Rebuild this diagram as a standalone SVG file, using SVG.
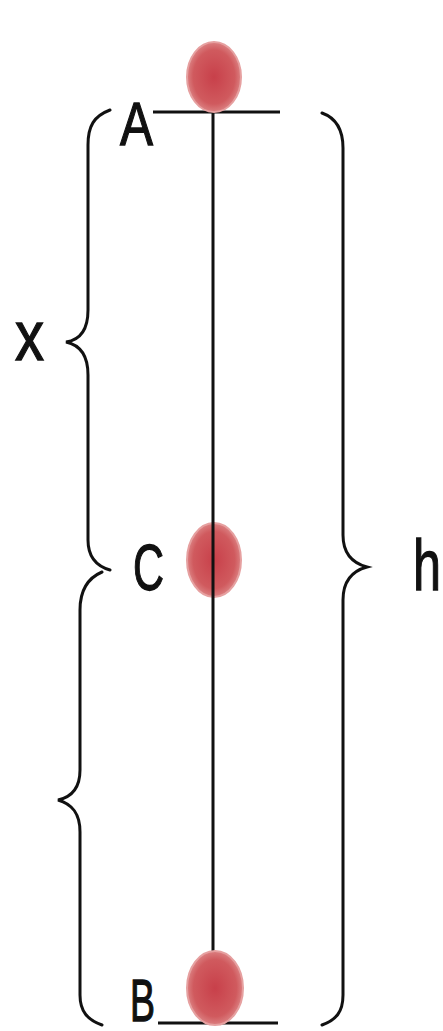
<svg xmlns="http://www.w3.org/2000/svg" width="443" height="1031" viewBox="0 0 443 1031">
<style>
.ln{stroke:#111;stroke-width:3;fill:none}
.br{stroke:#111;stroke-width:3;fill:none;stroke-linecap:round}
.lbl{font-family:"Liberation Sans",Arial,sans-serif;fill:#111;stroke:#111;stroke-width:1.3}
.ball{fill:url(#g);stroke:#e6a0a0;stroke-width:2}
</style>
<defs>
<radialGradient id="g" cx="50%" cy="50%" r="55%">
<stop offset="0" stop-color="#c8404a"/>
<stop offset="0.7" stop-color="#d05a5e"/>
<stop offset="1" stop-color="#e09090"/>
</radialGradient>
</defs>
<rect width="443" height="1031" fill="#fff"/>
<g id="connectors">
<line class="ln" x1="153" y1="112" x2="280" y2="112"/>
<line class="ln" x1="158" y1="1023" x2="278" y2="1023"/>
<path class="br" d="M110,110 C94,116 88,126 88,145 L88,310 C88,330 80,340 66,342 C80,345 88,355 88,375 L88,540 C88,556 96,566 110,570"/>
<path class="br" d="M102,572 C88,578 80,590 80,610 L80,770 C80,788 72,797 58,800 C72,804 80,813 80,832 L80,995 C80,1012 88,1020 102,1025"/>
<path class="br" d="M322,113 C336,118 343,130 343,148 L343,535 C343,553 352,563 367,567 C352,571 343,581 343,600 L343,995 C343,1012 336,1020 322,1025"/>
</g>
<g id="nodeC"><ellipse class="ball" cx="214" cy="560" rx="27" ry="37"/></g>
<line class="ln" x1="213" y1="112" x2="213" y2="955"/>
<g id="nodeA"><ellipse class="ball" cx="214" cy="77" rx="27" ry="35"/>
<text class="lbl" x="120" y="145" font-size="62" textLength="33" lengthAdjust="spacingAndGlyphs">A</text></g>
<g id="labelC"><text class="lbl" x="133" y="590" font-size="64" textLength="31" lengthAdjust="spacingAndGlyphs">C</text></g>
<g id="nodeB"><ellipse class="ball" cx="215" cy="988" rx="28" ry="37"/>
<text class="lbl" x="130" y="1021" font-size="60" textLength="25" lengthAdjust="spacingAndGlyphs">B</text></g>
<g id="labelX"><text class="lbl" x="15" y="360" font-size="70" textLength="29" lengthAdjust="spacingAndGlyphs">x</text></g>
<g id="labelH"><text class="lbl" x="413" y="590" font-size="72" textLength="28" lengthAdjust="spacingAndGlyphs">h</text></g>
</svg>
